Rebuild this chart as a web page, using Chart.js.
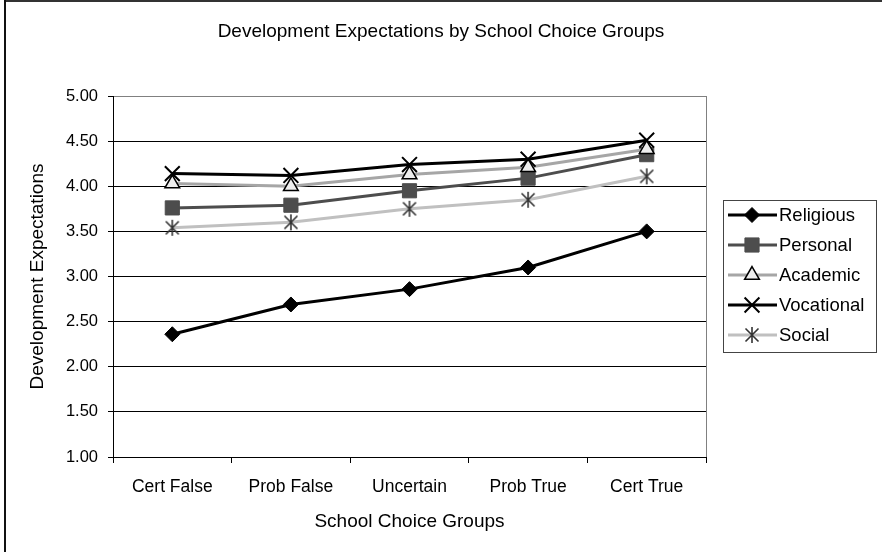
<!DOCTYPE html>
<html>
<head>
<meta charset="utf-8">
<script src="https://cdn.jsdelivr.net/npm/chart.js@4/dist/chart.umd.min.js"></script>
<style>
  html, body { margin: 0; padding: 0; background: #fff; }
  #wrap { width: 882px; height: 552px; position: relative; }
</style>
</head>
<body>
<div id="wrap"><canvas id="chart"></canvas></div>
<script>
// valores
const groups = ['Cert False', 'Prob False', 'Uncertain', 'Prob True', 'Cert True'];
const religious = [2.36, 2.69, 2.86, 3.10, 3.50];
const personal = [3.76, 3.79, 3.95, 4.09, 4.35];
const academic = [4.03, 4.00, 4.13, 4.21, 4.41];
const vocational = [4.14, 4.12, 4.24, 4.30, 4.51];
const social = [3.54, 3.60, 3.75, 3.85, 4.11];
const yMin = 1, yMax = 5, yStep = 0.5;
const chartTitle = 'Development Expectations by School Choice Groups';

const FONT = "'Liberation Sans', Arial, sans-serif";
Chart.defaults.font.family = FONT;
Chart.defaults.color = '#000';

// marcador asterisco (linea vertical + X) como en Excel
function makeAsterisk(color) {
    const c = document.createElement('canvas');
    c.width = 18; c.height = 18;
    const g = c.getContext('2d');
    g.strokeStyle = color;
    g.lineWidth = 1.6;
    g.beginPath();
    g.moveTo(9, 1); g.lineTo(9, 17);
    g.moveTo(2.5, 2.5); g.lineTo(15.5, 15.5);
    g.moveTo(15.5, 2.5); g.lineTo(2.5, 15.5);
    g.stroke();
    return c;
}
const asterisk = makeAsterisk('#333');

const chartFrame = {
    id: 'chartFrame',
    beforeDraw(chart) {
        const ctx = chart.ctx;
        ctx.save();
        ctx.fillStyle = '#fff';
        ctx.fillRect(0, 0, chart.width, chart.height);
        ctx.restore();
    },
    afterDraw(chart) {
        const ctx = chart.ctx;
        const a = chart.chartArea;
        ctx.save();
        // borde derecho del area de trazado
        ctx.strokeStyle = '#808080';
        ctx.lineWidth = 1;
        ctx.beginPath();
        ctx.moveTo(Math.round(a.right) + 0.5, a.top);
        ctx.lineTo(Math.round(a.right) + 0.5, a.bottom);
        ctx.stroke();
        // titulo centrado sobre todo el grafico
        ctx.fillStyle = '#000';
        ctx.font = '19px ' + FONT;
        ctx.textAlign = 'center';
        ctx.textBaseline = 'middle';
        ctx.fillText(chartTitle, chart.width / 2, 32);
        // borde exterior
        ctx.fillStyle = '#333';
        ctx.fillRect(4, 0, chart.width - 4, 2);
        ctx.fillStyle = '#111';
        ctx.fillRect(4, 0, 2, chart.height);
        ctx.restore();
    }
};

// leyenda con linea + marcador
const sideLegend = {
    id: 'sideLegend',
    afterDraw(chart) {
        const ctx = chart.ctx;
        ctx.save();
        ctx.strokeStyle = '#444';
        ctx.lineWidth = 1;
        ctx.strokeRect(723.5, 200.5, 153, 152);
        chart.data.datasets.forEach(function(ds, i) {
            const y = 215 + i * 30;
            ctx.strokeStyle = ds.borderColor;
            ctx.lineWidth = ds.borderWidth;
            ctx.beginPath();
            ctx.moveTo(728, y);
            ctx.lineTo(777, y);
            ctx.stroke();
            ctx.fillStyle = ds.pointBackgroundColor;
            ctx.strokeStyle = ds.pointBorderColor;
            ctx.lineWidth = ds.pointBorderWidth;
            Chart.helpers.drawPoint(ctx, {
                pointStyle: ds.pointStyle,
                radius: ds.pointRadius,
                borderWidth: ds.pointBorderWidth,
                rotation: 0
            }, 752, y);
            ctx.fillStyle = '#000';
            ctx.font = '18.5px ' + FONT;
            ctx.textBaseline = 'middle';
            ctx.textAlign = 'left';
            ctx.fillText(ds.label, 779, y + 1);
        });
        ctx.restore();
    }
};

new Chart(document.getElementById('chart'), {
    type: 'line',
    data: {
        labels: groups,
        datasets: [{
            label: 'Religious',
            data: religious,
            borderColor: '#000',
            borderWidth: 3,
            pointStyle: 'rectRot',
            pointRadius: 7.5,
            pointBackgroundColor: '#000',
            pointBorderColor: '#000',
            pointBorderWidth: 1,
            order: 5
        }, {
            label: 'Personal',
            data: personal,
            borderColor: '#4d4d4d',
            borderWidth: 3,
            pointStyle: 'rect',
            pointRadius: 10,
            pointBackgroundColor: '#4d4d4d',
            pointBorderColor: '#4d4d4d',
            pointBorderWidth: 1,
            order: 4
        }, {
            label: 'Academic',
            data: academic,
            borderColor: '#a6a6a6',
            borderWidth: 3,
            pointStyle: 'triangle',
            pointRadius: 8.5,
            pointBackgroundColor: '#eeeeee',
            pointBorderColor: '#000',
            pointBorderWidth: 1.5,
            order: 3
        }, {
            label: 'Vocational',
            data: vocational,
            borderColor: '#000',
            borderWidth: 3,
            pointStyle: 'crossRot',
            pointRadius: 10.5,
            pointBackgroundColor: '#000',
            pointBorderColor: '#000',
            pointBorderWidth: 2,
            order: 2
        }, {
            label: 'Social',
            data: social,
            borderColor: '#c0c0c0',
            borderWidth: 3,
            pointStyle: asterisk,
            pointRadius: 9,
            pointBackgroundColor: '#333',
            pointBorderColor: '#333',
            pointBorderWidth: 1,
            order: 1
        }]
    },
    options: {
        responsive: true,
        maintainAspectRatio: false,
        animation: false,
        events: [],
        layout: {
            padding: { left: 20, right: 176, top: 96, bottom: 15 }
        },
        elements: {
            line: { tension: 0 }
        },
        plugins: {
            legend: { display: false },
            tooltip: { enabled: false },
            title: { display: false }
        },
        scales: {
            x: {
                afterFit: function(scale) { scale.height = 80; },
                offset: true,
                grid: {
                    offset: true,
                    drawOnChartArea: false,
                    drawTicks: true,
                    tickLength: 6,
                    tickColor: '#000'
                },
                border: { color: '#000', width: 1 },
                ticks: {
                    font: { size: 17.5 },
                    color: '#000',
                    padding: 14,
                    maxRotation: 0
                },
                title: {
                    display: true,
                    text: 'School Choice Groups',
                    font: { size: 19 },
                    color: '#000',
                    padding: { top: 0, bottom: 4 }
                }
            },
            y: {
                afterFit: function(scale) { scale.width = 93; },
                min: yMin,
                max: yMax,
                grid: {
                    color: function(ctx) { return ctx.tick && ctx.tick.value === yMax ? '#808080' : '#000'; },
                    tickColor: '#000',
                    tickLength: 5,
                    lineWidth: 1
                },
                border: { color: '#000', width: 1 },
                ticks: {
                    stepSize: yStep,
                    font: { size: 16.5 },
                    color: '#000',
                    padding: 10,
                    callback: function(value) { return value.toFixed(2); }
                },
                title: {
                    display: true,
                    text: 'Development Expectations',
                    font: { size: 19 },
                    color: '#000',
                    padding: { top: 6, bottom: 0 }
                }
            }
        }
    },
    plugins: [chartFrame, sideLegend]
});
</script>
</body>
</html>
